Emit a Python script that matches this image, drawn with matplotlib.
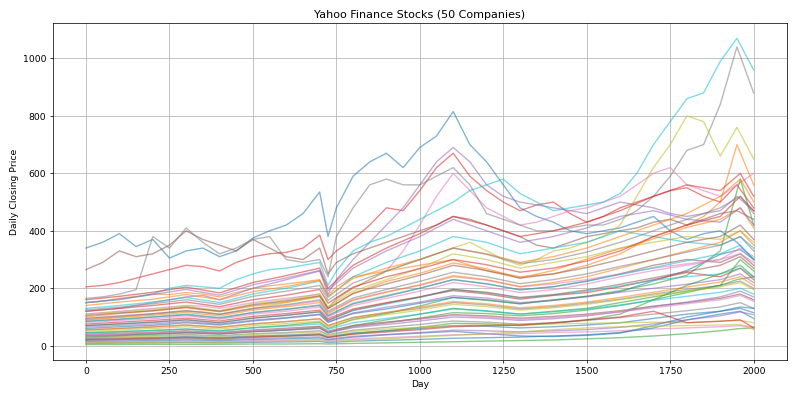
import matplotlib
matplotlib.use('Agg')
import matplotlib.pyplot as plt

# sample days: finer grid for the ten stand-out companies,
# coarse grid for the dense band underneath (both keep the dip around day 725)
days_fine = [0, 50, 100, 150, 200, 250, 300, 350, 400, 450, 500, 550, 600, 650, 700, 725,
             750, 800, 850, 900, 950, 1000, 1050, 1100, 1150, 1200, 1250, 1300, 1350, 1400,
             1450, 1500, 1550, 1600, 1650, 1700, 1750, 1800, 1850, 1900, 1950, 2000]
days = [0, 100, 200, 300, 400, 500, 600, 700, 725, 800, 900, 1000,
        1100, 1200, 1300, 1400, 1500, 1600, 1700, 1800, 1900, 1960, 2000]

# closing prices per company (days_fine)
s00 = [340, 360, 390, 345, 370, 305, 330, 340, 310, 330, 375, 400, 420, 460, 535, 380, 480, 590, 640, 670, 620, 690, 730, 815, 700, 640, 560, 480, 450, 430, 400, 390, 400, 410, 430, 450, 400, 370, 390, 400, 360, 300]
s01 = [150, 155, 165, 172, 180, 178, 185, 180, 170, 185, 200, 208, 215, 222, 230, 175, 205, 240, 250, 260, 270, 280, 290, 300, 280, 260, 250, 240, 245, 250, 265, 280, 300, 320, 350, 380, 400, 420, 450, 500, 700, 560]
s02 = [30, 32, 35, 38, 40, 42, 45, 44, 42, 46, 50, 52, 55, 60, 65, 45, 55, 70, 80, 90, 100, 110, 120, 130, 125, 120, 115, 110, 115, 120, 125, 130, 140, 150, 160, 170, 180, 190, 200, 210, 230, 240]
s03 = [205, 210, 220, 235, 250, 265, 280, 275, 260, 290, 310, 320, 325, 340, 385, 300, 330, 370, 420, 480, 470, 540, 620, 670, 590, 540, 500, 470, 490, 500, 460, 430, 450, 480, 500, 520, 540, 550, 520, 500, 560, 480]
s04 = [120, 125, 130, 140, 150, 160, 170, 175, 160, 180, 200, 215, 230, 245, 260, 180, 230, 300, 360, 420, 480, 560, 640, 690, 640, 560, 520, 500, 490, 480, 470, 460, 480, 500, 490, 480, 460, 450, 460, 470, 520, 470]
s05 = [265, 290, 330, 310, 320, 350, 400, 370, 350, 330, 370, 340, 310, 300, 340, 250, 290, 320, 340, 360, 380, 400, 420, 450, 440, 420, 400, 380, 350, 340, 360, 380, 390, 400, 410, 430, 440, 420, 440, 460, 470, 440]
s06 = [110, 115, 120, 125, 130, 135, 140, 138, 130, 140, 150, 158, 165, 172, 180, 130, 165, 200, 230, 260, 330, 420, 520, 600, 540, 480, 450, 420, 430, 450, 470, 480, 500, 520, 560, 600, 620, 560, 540, 520, 560, 600]
s07 = [165, 170, 180, 195, 380, 340, 410, 360, 320, 340, 370, 380, 300, 290, 300, 240, 380, 480, 560, 580, 560, 560, 590, 620, 560, 460, 440, 420, 400, 400, 410, 420, 420, 440, 470, 520, 590, 680, 700, 840, 1040, 880]
s08 = [90, 95, 100, 105, 110, 115, 120, 118, 110, 120, 130, 140, 150, 160, 170, 130, 160, 200, 230, 260, 280, 300, 320, 340, 360, 330, 300, 280, 300, 330, 340, 360, 380, 420, 520, 620, 700, 800, 780, 660, 760, 650]
s09 = [150, 155, 160, 170, 180, 200, 210, 205, 200, 230, 250, 265, 270, 280, 290, 210, 260, 330, 360, 380, 410, 440, 470, 500, 540, 560, 580, 530, 500, 470, 480, 490, 500, 530, 600, 700, 780, 860, 880, 990, 1070, 960]

# the rest (days)
s10 = [60, 66, 71, 80, 72, 86, 96, 108, 82, 112, 128, 148, 168, 160, 146, 158, 172, 188, 226, 262, 318, 335, 300]
s11 = [100, 112, 121, 132, 118, 138, 152, 172, 128, 182, 224, 252, 288, 268, 236, 262, 302, 338, 372, 412, 440, 480, 410]
s12 = [45, 49, 53, 58, 51, 63, 71, 82, 60, 92, 112, 138, 168, 158, 146, 160, 172, 192, 215, 245, 330, 580, 420]
s13 = [75, 82, 88, 96, 86, 102, 112, 124, 94, 128, 150, 170, 192, 180, 162, 175, 185, 205, 230, 255, 240, 270, 230]
s14 = [150, 162, 178, 196, 176, 212, 236, 262, 192, 270, 330, 380, 440, 400, 360, 380, 410, 450, 470, 440, 430, 480, 420]
s15 = [85, 92, 100, 108, 96, 115, 126, 140, 104, 146, 172, 200, 230, 215, 195, 205, 225, 250, 280, 300, 290, 320, 280]
s16 = [95, 104, 112, 122, 110, 128, 140, 156, 116, 160, 188, 210, 240, 228, 205, 215, 230, 250, 270, 285, 300, 320, 290]
s17 = [55, 60, 66, 72, 64, 76, 84, 94, 70, 98, 115, 130, 150, 142, 128, 136, 148, 162, 180, 196, 210, 225, 200]
s18 = [110, 118, 126, 138, 122, 146, 160, 180, 136, 190, 230, 270, 320, 300, 270, 290, 310, 340, 360, 380, 370, 400, 360]
s19 = [130, 140, 152, 168, 150, 180, 200, 225, 168, 240, 290, 330, 380, 360, 320, 340, 360, 400, 380, 360, 350, 380, 340]
s20 = [25, 27, 29, 32, 29, 34, 37, 42, 32, 44, 52, 60, 70, 68, 62, 66, 72, 80, 95, 110, 120, 130, 115]
s21 = [140, 152, 162, 178, 160, 188, 206, 228, 172, 234, 270, 300, 340, 320, 290, 310, 340, 380, 420, 460, 520, 580, 500]
s22 = [35, 38, 42, 46, 41, 49, 55, 62, 46, 66, 80, 96, 115, 112, 104, 112, 124, 140, 160, 185, 210, 300, 260]
s23 = [120, 130, 140, 152, 136, 160, 176, 196, 148, 204, 240, 268, 300, 282, 256, 270, 295, 330, 380, 420, 450, 520, 470]
s24 = [65, 71, 76, 84, 75, 89, 98, 110, 82, 114, 134, 152, 174, 166, 150, 158, 170, 186, 200, 214, 230, 250, 220]
s25 = [40, 44, 47, 52, 46, 55, 61, 68, 51, 70, 82, 94, 108, 104, 96, 102, 110, 122, 138, 150, 165, 180, 160]
s26 = [80, 88, 94, 104, 92, 110, 120, 134, 100, 140, 165, 190, 220, 205, 185, 195, 215, 240, 262, 280, 300, 340, 310]
s27 = [30, 33, 36, 39, 35, 42, 46, 52, 39, 54, 64, 74, 86, 82, 75, 80, 88, 98, 110, 122, 135, 150, 130]
s28 = [50, 55, 60, 66, 58, 70, 77, 86, 65, 90, 108, 124, 144, 136, 124, 132, 144, 160, 176, 190, 205, 220, 195]
s29 = [70, 76, 82, 90, 80, 96, 106, 118, 88, 122, 145, 168, 196, 184, 166, 176, 190, 208, 228, 240, 250, 270, 240]
s30 = [15, 16, 18, 20, 18, 21, 24, 27, 20, 30, 38, 44, 50, 42, 34, 32, 36, 44, 70, 100, 120, 135, 130]
s31 = [90, 98, 106, 116, 104, 124, 136, 150, 112, 158, 186, 212, 244, 230, 206, 220, 240, 270, 300, 330, 360, 400, 350]
s32 = [20, 22, 24, 27, 24, 29, 33, 38, 28, 42, 52, 64, 78, 76, 70, 78, 90, 110, 160, 210, 250, 280, 240]
s33 = [160, 172, 186, 204, 184, 220, 244, 270, 200, 280, 340, 390, 450, 420, 380, 400, 430, 470, 520, 560, 540, 600, 520]
s34 = [35, 38, 42, 46, 41, 49, 54, 60, 45, 63, 74, 86, 100, 96, 88, 94, 104, 118, 136, 152, 170, 190, 170]
s35 = [105, 114, 122, 134, 120, 142, 156, 174, 130, 182, 215, 245, 280, 262, 235, 250, 272, 300, 330, 360, 380, 420, 370]
s36 = [12, 13, 14, 16, 14, 17, 19, 22, 17, 24, 28, 33, 38, 40, 42, 46, 48, 52, 58, 62, 66, 70, 66]
s37 = [125, 134, 146, 160, 144, 172, 190, 210, 158, 218, 260, 300, 340, 318, 286, 300, 326, 360, 400, 440, 480, 520, 460]
s38 = [28, 30, 33, 36, 33, 39, 43, 48, 36, 50, 58, 64, 70, 72, 74, 76, 78, 80, 82, 80, 86, 88, 80]
s39 = [45, 49, 53, 58, 52, 62, 68, 76, 57, 80, 95, 110, 128, 122, 110, 118, 128, 142, 158, 172, 186, 200, 180]
s40 = [8, 9, 10, 11, 10, 12, 13, 15, 11, 16, 19, 22, 26, 28, 30, 34, 38, 46, 62, 90, 110, 120, 95]
s41 = [55, 60, 65, 72, 64, 76, 84, 94, 70, 98, 116, 134, 154, 146, 132, 140, 152, 168, 186, 204, 222, 240, 210]
s42 = [4, 4, 5, 5, 5, 6, 6, 7, 6, 8, 10, 12, 14, 16, 18, 20, 24, 28, 34, 42, 52, 60, 62]
s43 = [22, 24, 26, 29, 26, 31, 34, 38, 29, 40, 48, 56, 66, 70, 72, 80, 90, 100, 120, 80, 85, 90, 62]
s44 = [18, 20, 22, 24, 21, 25, 28, 31, 23, 33, 39, 46, 54, 52, 48, 52, 56, 64, 76, 90, 104, 118, 108]
s45 = [70, 76, 82, 90, 80, 96, 106, 118, 88, 124, 148, 170, 196, 186, 168, 178, 194, 214, 236, 258, 280, 310, 270]
s46 = [38, 41, 45, 50, 44, 52, 58, 64, 48, 68, 80, 92, 106, 100, 92, 98, 106, 118, 132, 146, 160, 175, 155]
s47 = [95, 103, 111, 122, 109, 130, 143, 160, 120, 166, 196, 224, 256, 240, 216, 230, 250, 276, 300, 326, 350, 380, 330]
s48 = [10, 11, 12, 13, 12, 14, 16, 18, 14, 20, 24, 30, 36, 42, 48, 56, 62, 66, 68, 70, 72, 74, 56]
s49 = [85, 92, 100, 110, 98, 116, 128, 142, 106, 148, 175, 200, 230, 216, 194, 206, 224, 248, 272, 296, 320, 350, 300]

top = [s00, s01, s02, s03, s04, s05, s06, s07, s08, s09]
rest = [s10, s11, s12, s13, s14, s15, s16, s17, s18, s19,
        s20, s21, s22, s23, s24, s25, s26, s27, s28, s29,
        s30, s31, s32, s33, s34, s35, s36, s37, s38, s39,
        s40, s41, s42, s43, s44, s45, s46, s47, s48, s49]

fig, ax = plt.subplots(figsize=(12, 6), dpi=797 / 12)
for p in top:
    ax.plot(days_fine, p, alpha=0.55)
for p in rest:
    ax.plot(days, p, alpha=0.55)

ax.set_title('Yahoo Finance Stocks (50 Companies)')
ax.set_xlabel('Day')
ax.set_ylabel('Daily Closing Price')
ax.grid(True)
fig.tight_layout()
fig.savefig('out.png')
